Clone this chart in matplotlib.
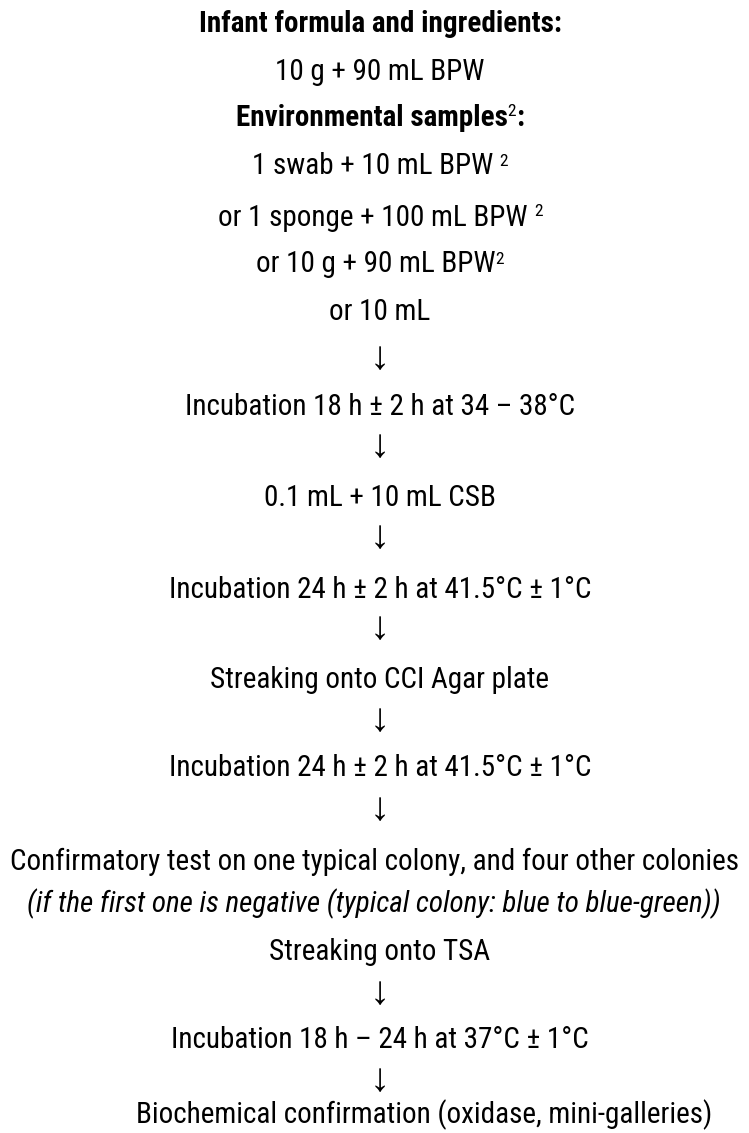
import matplotlib
matplotlib.use("Agg")
import matplotlib.pyplot as plt

# ---- content ----
lines = [
    "Infant formula and ingredients:",
    "10 g + 90 mL BPW",
    "Environmental samples",
    "1 swab + 10 mL BPW ",
    "or 1 sponge + 100 mL BPW ",
    "or 10 g + 90 mL BPW",
    "or 10 mL",
    "\u2193",
    "Incubation 18 h \u00b1 2 h at 34 \u2013 38\u00b0C",
    "\u2193",
    "0.1 mL + 10 mL CSB",
    "\u2193",
    "Incubation 24 h \u00b1 2 h at 41.5\u00b0C \u00b1 1\u00b0C",
    "\u2193",
    "Streaking onto CCI Agar plate",
    "\u2193",
    "Incubation 24 h \u00b1 2 h at 41.5\u00b0C \u00b1 1\u00b0C",
    "\u2193",
    "Confirmatory test on one typical colony, and four other colonies",
    "(if the first one is negative (typical colony: blue to blue-green))",
    "Streaking onto TSA",
    "\u2193",
    "Incubation 18 h \u2013 24 h at 37\u00b0C \u00b1 1\u00b0C",
    "\u2193",
    "Biochemical confirmation (oxidase, mini-galleries)",
]
superscripts = ["", "", "2", "2", "2", "2"] + [""] * 19
trailing = ["", "", ":"] + [""] * 22
weights = ["bold", "normal", "bold"] + ["normal"] * 22
styles = ["normal"] * 19 + ["italic"] + ["normal"] * 5

# ---- layout (pixels from top-left) ----
y_mid = [22, 70, 115, 164, 215, 262, 310, 358, 405, 446, 495, 537, 587, 628, 678, 720,
         766, 809, 860, 902, 950, 993, 1038, 1080, 1113]
x_ctr = [380] * 18 + [374, 374] + [380] * 4 + [424]
FS = 21
ARROW_FS = 29
CAP = 10.5

W, H = 749, 1133
fig = plt.figure(figsize=(W / 100, H / 100), dpi=100)
fig.patch.set_facecolor("white")

main_fam = ["Roboto Condensed", "Liberation Sans", "DejaVu Sans"]
arrow_fam = ["Liberation Sans", "DejaVu Sans"]

renderer = fig.canvas.get_renderer()
for i, txt in enumerate(lines):
    is_arrow = txt == "\u2193"
    if is_arrow:
        fig.text(x_ctr[i] / W, 1 - y_mid[i] / H, txt, ha="center", va="center",
                 fontsize=ARROW_FS, family=arrow_fam, color="black")
        continue
    kw = dict(fontsize=FS, fontweight=weights[i], fontstyle=styles[i],
              family=main_fam, color="black")
    yb = 1 - (y_mid[i] + CAP) / H
    if superscripts[i] or trailing[i]:
        t_main = fig.text(0, yb, txt, ha="left", va="baseline", **kw)
        t_sup = fig.text(0, yb + 9 / H, superscripts[i], ha="left", va="baseline",
                         **{**kw, "fontsize": FS * 0.6, "fontweight": "normal"})
        t_tr = fig.text(0, yb, trailing[i], ha="left", va="baseline", **kw)
        w_main = t_main.get_window_extent(renderer).width
        w_sup = t_sup.get_window_extent(renderer).width if superscripts[i] else 0
        w_tr = t_tr.get_window_extent(renderer).width if trailing[i] else 0
        x0 = x_ctr[i] - (w_main + w_sup + w_tr) / 2
        t_main.set_x(x0 / W)
        t_sup.set_x((x0 + w_main) / W)
        t_tr.set_x((x0 + w_main + w_sup) / W)
    else:
        fig.text(x_ctr[i] / W, yb, txt, ha="center", va="baseline", **kw)

fig.savefig("out.png", dpi=100, facecolor="white")
